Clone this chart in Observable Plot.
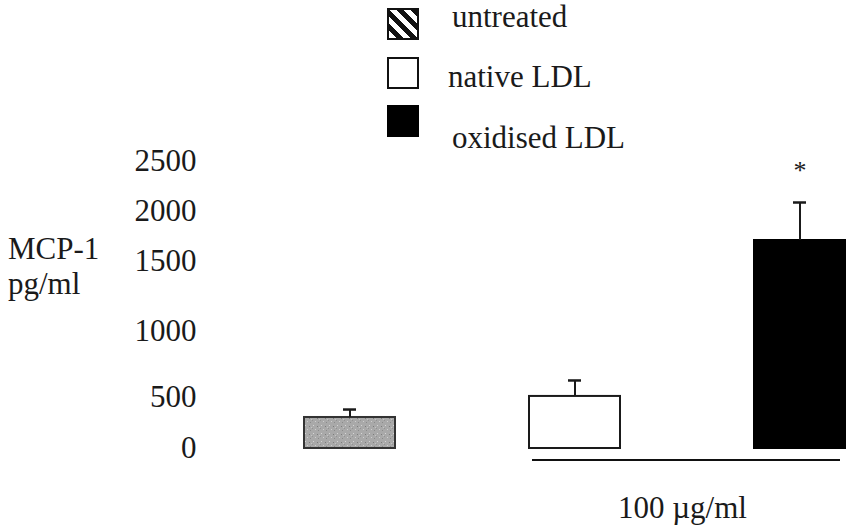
<!DOCTYPE html>
<html>
<head>
<meta charset="utf-8">
<script src="https://cdn.jsdelivr.net/npm/d3@7"></script>
<script src="https://cdn.jsdelivr.net/npm/@observablehq/plot@0.6"></script>
<style>
  html, body { margin: 0; padding: 0; background: #fff; }
  #wrap { position: relative; width: 857px; height: 532px; overflow: hidden;
          font-family: "Liberation Serif", "Times New Roman", serif; color: #1a1a1a; }
  #wrap svg.plot, #wrap > svg { position: absolute; left: 0; top: 0; }
  .abs { position: absolute; white-space: nowrap; font-size: 31px; line-height: 31px; }
  .sw { position: absolute; width: 32px; height: 32px; box-sizing: border-box; border: 2px solid #111; }
</style>
</head>
<body>
<div id="wrap">
  <div class="sw" style="left:387px;top:8px;background:repeating-linear-gradient(45deg,#fff 0px,#fff 5px,#111 5px,#111 10px);"></div>
  <div class="abs" style="left:452px;top:1px;">untreated</div>
  <div class="sw" style="left:387px;top:57px;background:#fff;"></div>
  <div class="abs" style="left:448px;top:61px;">native LDL</div>
  <div class="sw" style="left:387px;top:105px;background:#000;border-color:#000;"></div>
  <div class="abs" style="left:452px;top:122px;">oxidised LDL</div>

  <div class="abs" style="left:8px;top:233px;">MCP-1</div>
  <div class="abs" style="left:8px;top:268px;">pg/ml</div>

  <div style="position:absolute;left:532px;top:459px;width:308px;height:2px;background:#111;"></div>
  <div class="abs" style="left:618px;top:492px;">100 µg/ml</div>
</div>
<script>
// ---- data ----
const groups = ["untreated", "native LDL", "oxidised LDL"];
const values = [304, 508, 1710];        // MCP-1 pg/ml
const errors = [78, 121, 380];          // SEM (upper bar)
const stars  = ["", "", "*"];
const yTicks = [0, 500, 1000, 1500, 2000, 2500];

const data = groups.map((g, i) => ({
  group: g, value: values[i], err: errors[i], upper: values[i] + errors[i], star: stars[i]
}));

const fills = {"untreated": "url(#stipple)", "native LDL": "#ffffff", "oxidised LDL": "#000000"};
const strokes = {"untreated": "#333333", "native LDL": "#1a1a1a", "oxidised LDL": "#000000"};

// the original figure's axis is unevenly spaced: a piecewise-linear warp reproduces it
const warp = d3.scaleLinear().domain(yTicks).range([0, 51, 117, 187, 237, 287]);

const chart = Plot.plot({
  width: 857,
  height: 532,
  marginLeft: 200,
  marginRight: 0,
  marginTop: 0,
  marginBottom: 0,
  style: {fontFamily: "'Liberation Serif', 'Times New Roman', serif", background: "transparent", color: "#1a1a1a"},
  x: {domain: groups, range: [303.5, 845.5], paddingInner: 0.5965, paddingOuter: 0, axis: null},
  y: {transform: warp, domain: [0, 287], range: [448, 161], axis: null},
  color: {type: "identity"},
  marks: [
    Plot.barY(data, {x: "group", y: "value", fill: d => fills[d.group], stroke: d => strokes[d.group], strokeWidth: 2}),
    Plot.ruleX(data, {x: "group", y1: "value", y2: "upper", stroke: "#1a1a1a", strokeWidth: 2}),
    Plot.tickY(data, {x: "group", y: "upper", stroke: "#1a1a1a", strokeWidth: 2.5, insetLeft: 39, insetRight: 39}),
    Plot.text(data, {x: "group", y: "upper", text: "star", dy: -32, fontSize: 26, fill: "#1a1a1a"}),
    Plot.text(yTicks, {y: d => d, text: d => String(d), frameAnchor: "left", textAnchor: "end", dx: -4, fontSize: 31, fill: "#1a1a1a"})
  ]
});

// stipple texture for the untreated bar
const ns = "http://www.w3.org/2000/svg";
const defs = document.createElementNS(ns, "defs");
defs.innerHTML = `
  <pattern id="stipple" width="8" height="8" patternUnits="userSpaceOnUse">
    <rect width="8" height="8" fill="#a9a9a9"/>
    <rect x="1" y="1" width="1" height="1" fill="#d6d6d6"/>
    <rect x="5" y="2" width="1" height="1" fill="#7c7c7c"/>
    <rect x="3" y="5" width="1" height="1" fill="#cfcfcf"/>
    <rect x="6" y="6" width="1" height="1" fill="#8a8a8a"/>
    <rect x="0" y="4" width="1" height="1" fill="#939393"/>
    <rect x="7" y="3" width="1" height="1" fill="#c4c4c4"/>
  </pattern>`;
chart.insertBefore(defs, chart.firstChild);

document.getElementById("wrap").insertBefore(chart, document.getElementById("wrap").firstChild);
</script>
</body>
</html>
